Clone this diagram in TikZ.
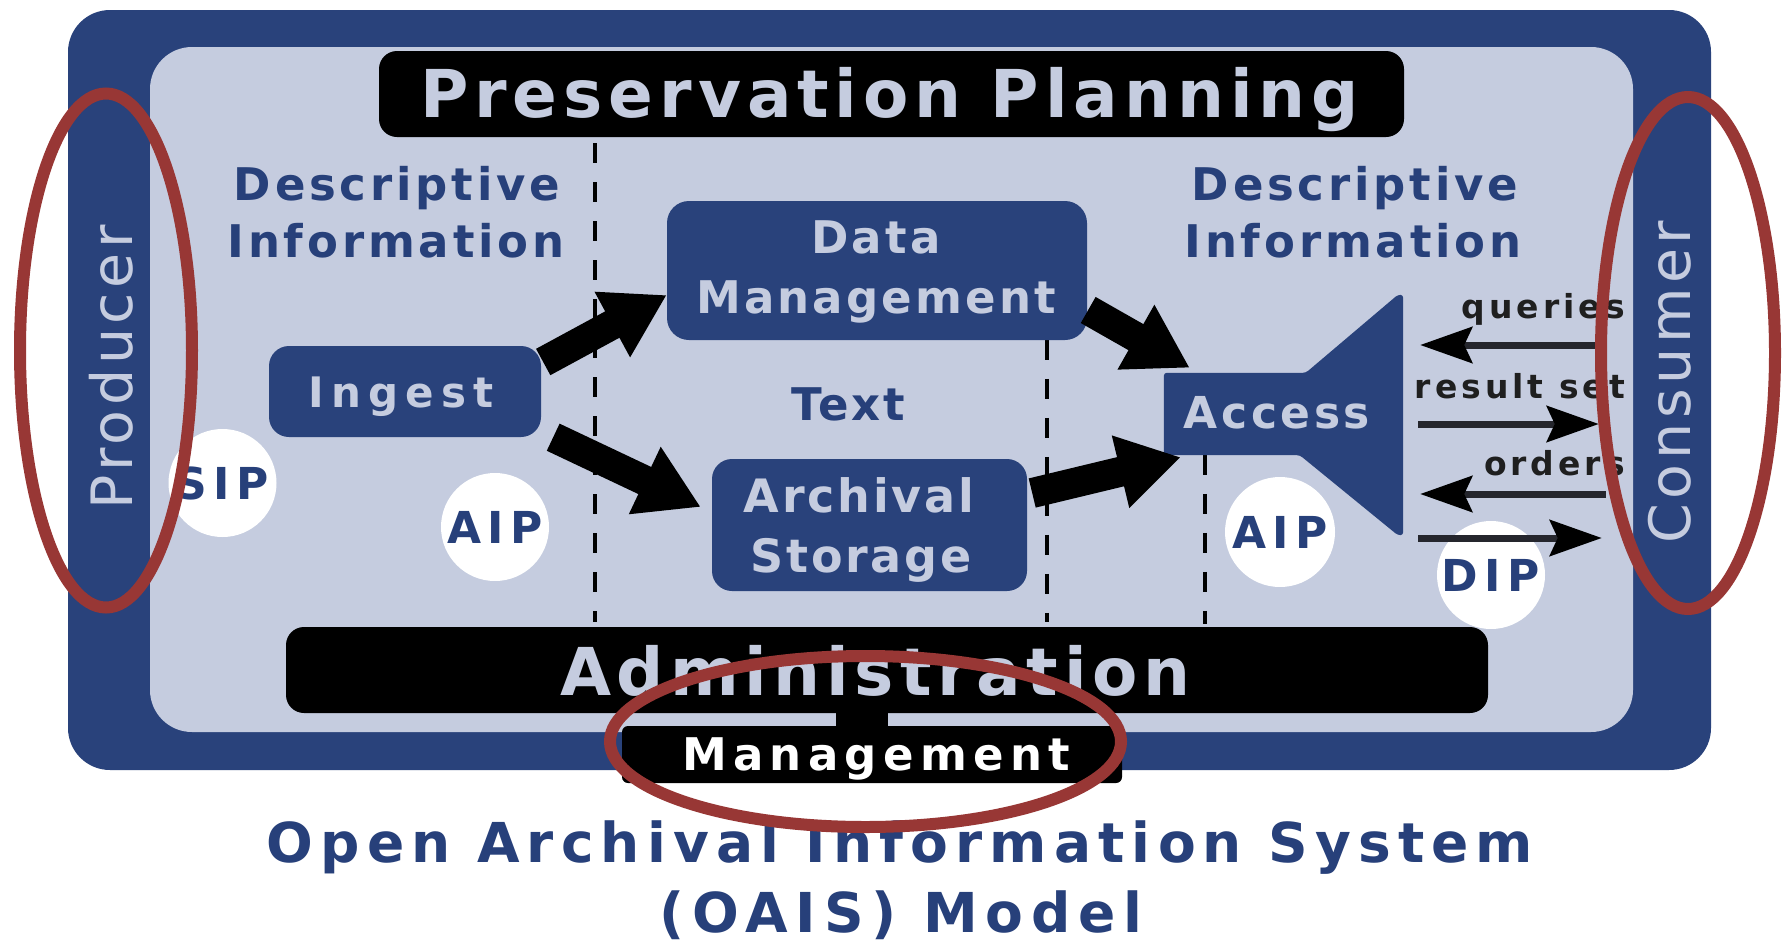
\documentclass[tikz,border=0pt]{standalone}
\usepackage{fontspec}
\setmainfont{DejaVu Sans}
\usetikzlibrary{arrows.meta,calc}
\definecolor{oblue}{HTML}{29427B}
\definecolor{lblue}{HTML}{C5CCDF}
\definecolor{tblue}{HTML}{27407A}
\definecolor{rred}{HTML}{983735}
\definecolor{shaftc}{HTML}{25262D}
\newcommand{\fs}[2]{\fontsize{#1}{#1}\selectfont\addfontfeature{LetterSpace=#2}}
\begin{document}
\begin{tikzpicture}[x=1pt,y=-1pt,
  plate/.style={fill=#1, inner sep=0pt, rounded corners=42},
  bar/.style={fill=black, inner sep=0pt, rounded corners=18},
  fbox/.style={fill=oblue, inner sep=0pt, rounded corners=#1},
  band/.style={inner sep=0pt, minimum width=80, minimum height=685},
  bigtxt/.style={text=lblue, font=\bfseries\fs{66}{9}, anchor=base, inner sep=0pt},
  desc/.style={text=tblue, font=\bfseries\fs{45}{8.5}, anchor=base, inner sep=0pt},
  boxtxt/.style={text=lblue, font=\bfseries\fs{45}{7}, anchor=base, inner sep=0pt},
  pkg/.style={circle, fill=white, text=tblue, font=\bfseries\fs{44}{15}, inner sep=0pt, minimum size=108},
  flow/.style={text=black!88, font=\bfseries\fs{33}{12}, anchor=base east, inner sep=0pt},
  ttl/.style={text=tblue, font=\bfseries\fs{55}{13}, anchor=base, inner sep=0pt},
  side/.style={text=lblue, font=\fs{57}{8}, rotate=90, anchor=base, inner sep=0pt},
  fat/.style={black, line width=30pt, -{Triangle[length=62pt,width=70pt]}},
  thinar/.style={draw=shaftc, line width=7pt, -{Stealth[length=52pt,width=36pt,inset=8pt,color=black]}},
  dashline/.style={black, line width=4pt, dash pattern=on 20pt off 19pt},
  redring/.style={draw=rred, line width=12pt}
]
\useasboundingbox (0,0) rectangle (1789,943);
\fill[white] (0,0) rectangle (1789,943);

% plates
\node[plate=oblue, minimum width=1643, minimum height=760] (outer) at (889.5,390) {};
\node[plate=lblue, minimum width=1483, minimum height=685] (inner) at (891.5,389.5) {};
\node[band] (prodband) at (109,389.5) {};
\node[band] (consband) at (1672,389.5) {};

% bars
\node[bar, minimum width=1025, minimum height=86] (pp) at (891.5,94) {};
\node[bar, minimum width=1202, minimum height=86] (admin) at (887,670) {};
\node[fill=black, inner sep=0pt, rounded corners=6, minimum width=500, minimum height=57] (mgmt) at (872,754.5) {};
\fill[black] ($(admin.south)+(-51,-3)$) rectangle ($(admin.south)+(1,15)$);

% dashed separators
\draw[dashline] ($(pp.south)+(-296.5,6)$) -- ($(admin.north)+(-292,-5)$);
\draw[dashline] ($(admin.north)+(160,-287)$) -- ($(admin.north)+(160,-5)$);
\draw[dashline] ($(admin.north)+(318,-172)$) -- ($(admin.north)+(318,-3)$);

% functional boxes
\node[fbox=22, minimum width=420, minimum height=139] (dm) at (877,270.5) {};
\node[fbox=20, minimum width=272, minimum height=91] (ingest) at (405,391.5) {};
\node[fbox=20, minimum width=315, minimum height=132] (as) at (869.5,525) {};
\node[inner sep=0pt, minimum width=239, minimum height=240] (access) at (1283.5,415) {};
\fill[oblue, rounded corners=3]
  ($(access.north west)+(0,78)$) -- ($(access.north west)+(142,78)$) --
  ($(access.north west)+(234,0)$) -- (access.north east) -- (access.south east) --
  ($(access.south west)+(234,0)$) -- ($(access.south west)+(136,-80)$) --
  ($(access.south west)+(0,-80)$) -- cycle;

% packages
\node[pkg] (sip) at (222.5,483) {SIP};
\node[pkg] (aip1) at (495,527) {AIP};
\node[pkg, minimum size=110] (aip2) at (1280,532) {AIP};
\node[pkg] (dip) at (1491,575) {DIP};

% fat arrows
\draw[fat] ($(ingest.east)+(2,-29.5)$) -- ($(dm.west)+(0,24.5)$);
\draw[fat] ($(ingest.south east)+(12,0)$) -- ($(as.west)+(-11,-18)$);
\draw[fat] ($(dm.east)+(1,39.5)$) -- ($(access.north west)+(26,73)$);
\draw[fat] ($(as.east)+(5,-32)$) -- ($(access.south west)+(17,-78)$);

% thin arrows to/from consumer
\draw[thinar] ($(consband.west)+(-26,-44.5)$) -- ($(access.east)+(17,-70)$);
\draw[thinar] ($(access.east)+(15,9)$) -- ($(consband.west)+(-33,34.5)$);
\draw[thinar] ($(consband.west)+(-26,104.5)$) -- ($(access.east)+(17,79)$);
\draw[thinar] ($(access.east)+(15,123)$) -- ($(consband.west)+(-30,148.5)$);

% texts
\node[bigtxt] (pptxt) at (889.5,117) {Preservation Planning};
\node[bigtxt] (admintxt) at (875.5,695) {Administration};
\node[text=white, font=\bfseries\fs{45}{14}, anchor=base, inner sep=0pt] (mgmttxt) at (876,770) {Management};

\node[desc] (dil1) at (397,200) {Descriptive};
\node[desc] (dil2) at (396,257) {Information};
\node[desc] (dir1) at (1355,200) {Descriptive};
\node[desc] (dir2) at (1353,257) {Information};

\node[boxtxt] (dmt1) at (876,253) {Data};
\node[boxtxt] (dmt2) at (876,313) {Management};
\node[boxtxt, font=\bfseries\fs{42}{17}] (ingtxt) at (401,407) {Ingest};
\node[desc, font=\bfseries\fs{45}{6}] (txt) at (848,420) {Text};
\node[boxtxt, font=\bfseries\fs{46}{6}] (ast1) at (859,512) {Archival};
\node[boxtxt, font=\bfseries\fs{46}{6}] (ast2) at (861,572) {Storage};
\node[boxtxt, font=\bfseries\fs{44}{8}] (acctxt) at (1277,428) {Access};

\node[flow] (q) at (1625,318) {queries};
\node[flow] (rs) at (1625,398) {result set};
\node[flow] (ord) at (1625,475) {orders};

\node[side] (producer) at (132,367.5) {Producer};
\node[side] (consumer) at (1690,382) {Consumer};

\node[ttl] (t1) at (900,862) {Open Archival Information System};
\node[ttl, font=\bfseries\fs{55}{14}] (t2) at (901,932) {(OAIS) Model};

% red highlight ellipses
\draw[redring] (106,350.5) ellipse [x radius=86, y radius=257];
\draw[redring] (1688,353) ellipse [x radius=87, y radius=256];
\draw[redring] (865.5,741.5) ellipse [x radius=255.5, y radius=85.5];
\end{tikzpicture}
\end{document}
